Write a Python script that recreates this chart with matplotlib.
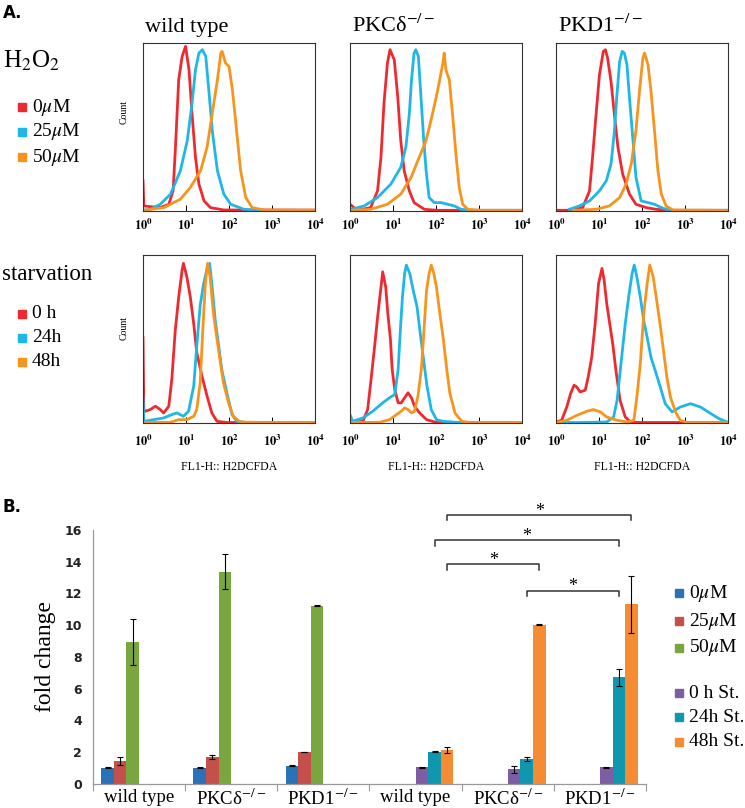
import numpy as np
import matplotlib as mpl
mpl.use('Agg')
import matplotlib.pyplot as plt
from matplotlib.patches import Rectangle

plt.rcParams['font.family'] = ['Liberation Serif', 'DejaVu Serif']
plt.rcParams['mathtext.fontset'] = 'stix'

W, H = 745, 808

# ---- flow cytometry histograms: (log10 FL1-H, normalised count) ----
# H2O2 row
wt_h2o2_0 = ([0.0, 0.02, 0.4, 0.6, 0.70, 0.755, 0.83, 0.91, 0.99, 1.07, 1.14, 1.22, 1.30, 1.42, 1.57, 1.88, 4.0],
             [0.18, 0.03, 0.02, 0.04, 0.12, 0.38, 0.78, 0.92, 0.98, 0.84, 0.58, 0.32, 0.16, 0.06, 0.02, 0.006, 0.005])
wt_h2o2_25 = ([0.0, 0.17, 0.40, 0.64, 0.87, 1.03, 1.14, 1.22, 1.30, 1.38, 1.46, 1.53, 1.61, 1.73, 1.88, 2.04, 2.35, 2.66, 4.0],
              [0.005, 0.01, 0.04, 0.10, 0.24, 0.42, 0.64, 0.84, 0.94, 0.96, 0.92, 0.72, 0.48, 0.24, 0.10, 0.04, 0.01, 0.004, 0.004])
wt_h2o2_50 = ([0.02, 0.48, 0.87, 1.10, 1.34, 1.49, 1.61, 1.73, 1.81, 1.84, 1.92, 2.0, 2.08, 2.16, 2.27, 2.39, 2.54, 2.82, 4.0],
              [0.004, 0.02, 0.07, 0.14, 0.24, 0.38, 0.58, 0.78, 0.94, 0.95, 0.88, 0.86, 0.72, 0.52, 0.24, 0.08, 0.02, 0.006, 0.005])

pkc_h2o2_0 = ([0.0, 0.17, 0.48, 0.64, 0.72, 0.79, 0.87, 0.93, 1.03, 1.11, 1.18, 1.26, 1.38, 1.49, 1.73, 2.04, 4.0],
              [0.04, 0.004, 0.02, 0.12, 0.32, 0.64, 0.88, 0.96, 0.90, 0.68, 0.42, 0.24, 0.12, 0.05, 0.01, 0.004, 0.004])
pkc_h2o2_25 = ([0.02, 0.33, 0.64, 0.95, 1.18, 1.30, 1.38, 1.43, 1.49, 1.53, 1.59, 1.65, 1.71, 1.77, 1.84, 1.96, 2.12, 2.27, 2.43, 2.58, 2.82, 4.0],
               [0.01, 0.03, 0.08, 0.16, 0.26, 0.38, 0.58, 0.78, 0.94, 0.96, 0.92, 0.68, 0.44, 0.24, 0.08, 0.05, 0.05, 0.04, 0.03, 0.01, 0.004, 0.004])
pkc_h2o2_50 = ([0.02, 0.48, 0.87, 1.18, 1.42, 1.61, 1.77, 1.92, 2.04, 2.16, 2.19, 2.23, 2.31, 2.39, 2.47, 2.54, 2.62, 2.74, 3.05, 4.0],
               [0.004, 0.01, 0.04, 0.10, 0.20, 0.32, 0.42, 0.58, 0.72, 0.88, 0.94, 0.84, 0.78, 0.56, 0.32, 0.14, 0.04, 0.01, 0.004, 0.004])

pkd_h2o2_0 = ([0.0, 0.31, 0.62, 0.78, 0.85, 0.93, 1.01, 1.10, 1.15, 1.20, 1.28, 1.36, 1.44, 1.55, 1.71, 1.86, 2.10, 2.33, 2.64, 4.0],
              [0.004, 0.004, 0.02, 0.12, 0.32, 0.57, 0.81, 0.95, 0.96, 0.91, 0.77, 0.57, 0.38, 0.22, 0.10, 0.04, 0.02, 0.01, 0.004, 0.004])
pkd_h2o2_25 = ([0.31, 0.54, 0.78, 1.01, 1.17, 1.28, 1.36, 1.41, 1.48, 1.54, 1.59, 1.65, 1.71, 1.79, 1.86, 1.98, 2.14, 2.29, 2.45, 2.64, 4.0],
               [0.01, 0.03, 0.06, 0.12, 0.18, 0.28, 0.48, 0.67, 0.89, 0.95, 0.94, 0.87, 0.67, 0.42, 0.20, 0.06, 0.05, 0.04, 0.02, 0.004, 0.004])
pkd_h2o2_50 = ([0.39, 0.93, 1.24, 1.48, 1.63, 1.75, 1.86, 1.94, 2.02, 2.06, 2.14, 2.21, 2.29, 2.37, 2.45, 2.56, 2.72, 4.0],
               [0.004, 0.01, 0.03, 0.08, 0.16, 0.28, 0.48, 0.71, 0.91, 0.94, 0.87, 0.71, 0.48, 0.24, 0.10, 0.03, 0.006, 0.004])

# starvation row
wt_st_0 = ([0.0, 0.02, 0.05, 0.17, 0.29, 0.40, 0.48, 0.60, 0.67, 0.75, 0.83, 0.91, 0.94, 1.02, 1.10, 1.18, 1.25, 1.37, 1.49, 1.60, 1.72, 1.95, 4.0],
           [0.51, 0.07, 0.07, 0.08, 0.10, 0.08, 0.06, 0.10, 0.26, 0.55, 0.75, 0.91, 0.95, 0.87, 0.75, 0.59, 0.42, 0.28, 0.16, 0.06, 0.01, 0.003, 0.003])
wt_st_24 = ([0.0, 0.02, 0.25, 0.48, 0.67, 0.79, 0.94, 1.06, 1.18, 1.25, 1.33, 1.41, 1.50, 1.55, 1.60, 1.68, 1.76, 1.83, 1.95, 2.07, 2.18, 2.41, 4.0],
            [0.15, 0.01, 0.02, 0.03, 0.05, 0.06, 0.04, 0.07, 0.22, 0.46, 0.70, 0.83, 0.93, 0.95, 0.83, 0.61, 0.46, 0.32, 0.18, 0.05, 0.01, 0.003, 0.003])
wt_st_48 = ([0.02, 0.63, 0.83, 1.02, 1.18, 1.25, 1.33, 1.39, 1.45, 1.50, 1.56, 1.64, 1.72, 1.80, 1.87, 1.99, 2.10, 2.26, 2.80, 4.0],
            [0.003, 0.004, 0.02, 0.02, 0.04, 0.08, 0.24, 0.55, 0.83, 0.95, 0.87, 0.65, 0.50, 0.36, 0.24, 0.12, 0.04, 0.006, 0.003, 0.003])

pkc_st_0 = ([0.0, 0.30, 0.41, 0.49, 0.57, 0.65, 0.73, 0.76, 0.83, 0.88, 0.94, 0.98, 1.04, 1.12, 1.19, 1.27, 1.35, 1.43, 1.50, 1.62, 1.78, 2.01, 4.0],
            [0.003, 0.01, 0.08, 0.26, 0.45, 0.65, 0.83, 0.90, 0.81, 0.65, 0.50, 0.32, 0.20, 0.12, 0.12, 0.15, 0.18, 0.15, 0.10, 0.06, 0.02, 0.003, 0.003])
pkc_st_24 = ([0.0, 0.06, 0.30, 0.53, 0.76, 0.92, 1.04, 1.12, 1.17, 1.22, 1.27, 1.31, 1.39, 1.47, 1.56, 1.64, 1.72, 1.79, 1.89, 2.01, 2.17, 2.48, 2.79, 4.0],
             [0.05, 0.01, 0.03, 0.07, 0.12, 0.15, 0.17, 0.32, 0.55, 0.75, 0.89, 0.94, 0.89, 0.79, 0.69, 0.52, 0.36, 0.22, 0.08, 0.02, 0.01, 0.004, 0.003, 0.003])
pkc_st_48 = ([0.0, 0.69, 0.92, 1.08, 1.19, 1.27, 1.35, 1.43, 1.50, 1.58, 1.66, 1.72, 1.78, 1.84, 1.89, 1.95, 2.01, 2.09, 2.17, 2.25, 2.32, 2.44, 2.60, 2.79, 4.0],
             [0.003, 0.004, 0.02, 0.05, 0.07, 0.09, 0.08, 0.06, 0.07, 0.16, 0.32, 0.55, 0.79, 0.89, 0.94, 0.89, 0.81, 0.65, 0.50, 0.32, 0.18, 0.06, 0.01, 0.003, 0.003])

pkd_st_0 = ([0.0, 0.13, 0.25, 0.34, 0.42, 0.48, 0.56, 0.68, 0.75, 0.83, 0.91, 0.99, 1.07, 1.12, 1.18, 1.25, 1.32, 1.40, 1.49, 1.61, 1.73, 1.96, 4.0],
            [0.006, 0.016, 0.095, 0.175, 0.225, 0.215, 0.185, 0.195, 0.275, 0.39, 0.59, 0.83, 0.92, 0.85, 0.71, 0.59, 0.47, 0.30, 0.135, 0.036, 0.006, 0.003, 0.003])
pkd_st_24 = ([0.0, 0.56, 1.18, 1.34, 1.42, 1.51, 1.61, 1.69, 1.77, 1.82, 1.88, 1.96, 2.04, 2.12, 2.21, 2.31, 2.43, 2.54, 2.70, 2.89, 3.13, 3.36, 3.60, 3.79, 3.98],
             [0.003, 0.003, 0.006, 0.036, 0.135, 0.35, 0.59, 0.75, 0.89, 0.94, 0.87, 0.75, 0.61, 0.51, 0.39, 0.31, 0.21, 0.115, 0.066, 0.095, 0.115, 0.095, 0.056, 0.026, 0.006])
pkd_st_48 = ([0.0, 0.25, 0.48, 0.72, 0.87, 1.03, 1.18, 1.42, 1.65, 1.81, 1.88, 1.96, 2.04, 2.12, 2.18, 2.26, 2.33, 2.43, 2.51, 2.58, 2.66, 2.78, 2.89, 3.05, 4.0],
             [0.003, 0.016, 0.045, 0.07, 0.08, 0.066, 0.036, 0.016, 0.006, 0.016, 0.155, 0.35, 0.65, 0.83, 0.94, 0.87, 0.75, 0.57, 0.41, 0.27, 0.155, 0.066, 0.016, 0.003, 0.003])

hist_rows = [[(wt_h2o2_0, wt_h2o2_25, wt_h2o2_50),
              (pkc_h2o2_0, pkc_h2o2_25, pkc_h2o2_50),
              (pkd_h2o2_0, pkd_h2o2_25, pkd_h2o2_50)],
             [(wt_st_0, wt_st_24, wt_st_48),
              (pkc_st_0, pkc_st_24, pkc_st_48),
              (pkd_st_0, pkd_st_24, pkd_st_48)]]
hist_colors = ['#ee2a30', '#1fb7e6', '#f7941e']
col_titles = ['wild type', 'PKCδ$^{-/-}$', 'PKD1$^{-/-}$']
h2o2_labels = ['0$\\mu$M', '25$\\mu$M', '50$\\mu$M']
starv_labels = ['0 h', '24h', '48h']

# ---- bar chart ----
groups = ['wild type', 'PKCδ$^{-/-}$', 'PKD1$^{-/-}$', 'wild type', 'PKCδ$^{-/-}$', 'PKD1$^{-/-}$']
nan = np.nan
bar_labels = ['0$\\mu$M', '25$\\mu$M', '50$\\mu$M', '0 h St.', '24h St.', '48h St.']
bar_colors = ['#2a72b5', '#c5504b', '#79a63e', '#7d5ea4', '#0f97ae', '#f58b33']
val_0uM = [1.0, 1.0, 1.13, nan, nan, nan]
val_25uM = [1.42, 1.68, 2.0, nan, nan, nan]
val_50uM = [8.95, 13.38, 11.22, nan, nan, nan]
val_0h = [nan, nan, nan, 1.02, 0.9, 1.02]
val_24h = [nan, nan, nan, 2.02, 1.53, 6.7]
val_48h = [nan, nan, nan, 2.13, 10.02, 11.32]
err_0uM = [0.03, 0.03, 0.03, nan, nan, nan]
err_25uM = [0.27, 0.15, 0.02, nan, nan, nan]
err_50uM = [1.45, 1.1, 0.02, nan, nan, nan]
err_0h = [nan, nan, nan, 0.03, 0.2, 0.02]
err_24h = [nan, nan, nan, 0.02, 0.12, 0.55]
err_48h = [nan, nan, nan, 0.2, 0.02, 1.8]
bar_vals = [val_0uM, val_25uM, val_50uM, val_0h, val_24h, val_48h]
bar_errs = [err_0uM, err_25uM, err_50uM, err_0h, err_24h, err_48h]

# significance brackets: group from, group to, series index, height
sig_from = [3, 3, 3, 4]
sig_to = [5, 5, 4, 5]
sig_series = [5, 4, 5, 4]
sig_height = [16.95, 15.35, 13.85, 12.17]

fig = plt.figure(figsize=(W / 100, H / 100), dpi=100)


def fx(px):
    return px / W


def fy(py):
    return 1 - py / H


# panel A
hist_left = [143, 350, 556]
hist_top = [43, 255]
hist_w, hist_h = 172, 168
for r in range(2):
    for c in range(3):
        ax = fig.add_axes([fx(hist_left[c]), fy(hist_top[r] + hist_h), hist_w / W, hist_h / H])
        for (lx, cnt), col in zip(hist_rows[r][c], hist_colors):
            ax.plot(10 ** np.array(lx), cnt, color=col, lw=2.0, solid_joinstyle='round')
        ax.set_xscale('log')
        ax.set_xlim(1, 1e4)
        ax.set_ylim(0, 1.0)
        ax.set_yticks([])
        ax.set_xticks([1, 10, 100, 1000, 10000])
        ax.set_xticklabels([r'$\mathbf{10^{%d}}$' % i for i in range(5)], fontsize=9)
        ax.tick_params(axis='x', which='major', direction='in', length=4, width=0.7, pad=8 if r else 5)
        ax.tick_params(axis='x', which='minor', direction='in', length=2.5, width=0.6)
        for s in ax.spines.values():
            s.set_color('#333333')
            s.set_linewidth(0.8)
        if r == 1:
            fig.text(fx(hist_left[c] + hist_w / 2), fy(467), 'FL1-H:: H2DCFDA',
                     ha='center', va='center', fontsize=8.5)
    fig.text(fx(124), fy([112, 328][r]), 'Count', rotation=90, ha='center', va='center', fontsize=7)

for c in range(3):
    fig.text(fx(hist_left[c] + 2), fy(32), col_titles[c], fontsize=16, va='baseline', ha='left')

fig.text(fx(3), fy(13), 'A.', fontsize=12, fontweight='bold', family='DejaVu Sans', va='center')
fig.text(fx(3), fy(61), 'H$_2$O$_2$', fontsize=18, va='center')
fig.text(fx(2), fy(275), 'starvation', fontsize=16.5, va='center')
for labels, ys in [(h2o2_labels, [107, 132, 157]), (starv_labels, [314, 338, 362])]:
    for lab, y, col in zip(labels, ys, hist_colors):
        fig.add_artist(Rectangle((fx(18), fy(y + 4)), 8 / W, 8 / H, color=col, transform=fig.transFigure))
        fig.text(fx(32), fy(y), lab, fontsize=14, va='center')

# panel B
fig.text(fx(3), fy(507), 'B.', fontsize=12, fontweight='bold', family='DejaVu Sans', va='center')
axb = fig.add_axes([fx(93), fy(783.6), 553 / W, 253.6 / H])
x = np.arange(len(groups))
bw = 0.137
for k in range(6):
    pos = x + (k - 2.5) * bw
    axb.bar(pos, bar_vals[k], bw, color=bar_colors[k])
    axb.errorbar(pos, bar_vals[k], yerr=bar_errs[k], fmt='none', ecolor='black',
                 elinewidth=0.8, capsize=2.5, capthick=0.8)
axb.set_xlim(-0.5, 5.5)
axb.set_ylim(0, 16)
axb.set_yticks(range(0, 17, 2))
axb.set_yticklabels([str(v) for v in range(0, 17, 2)], family='DejaVu Sans', fontweight='bold',
                    fontsize=9, color='#222222')
axb.set_xticks(np.arange(-0.5, 6, 1))
axb.set_xticklabels([])
axb.set_xticks(x, minor=True)
axb.set_xticklabels(groups, minor=True, fontsize=13.5)
axb.tick_params(axis='x', which='major', length=5, color='#999999', direction='out')
axb.tick_params(axis='x', which='minor', length=0, pad=4)
axb.tick_params(axis='y', length=0, pad=8)
for side in ['top', 'right']:
    axb.spines[side].set_visible(False)
for side in ['left', 'bottom']:
    axb.spines[side].set_color('#999999')
    axb.spines[side].set_linewidth(0.9)
axb.set_ylabel('fold change', fontsize=17, labelpad=6)

for g1, g2, s, yh in zip(sig_from, sig_to, sig_series, sig_height):
    x1 = g1 + (s - 2.5) * bw
    x2 = g2 + (s - 2.5) * bw
    axb.plot([x1, x1, x2, x2], [yh - 0.35, yh, yh, yh - 0.35], color='#333333', lw=1.1, clip_on=False)
    axb.text((x1 + x2) / 2, yh - 0.05, '*', ha='center', va='baseline', fontsize=13, clip_on=False)

for lab, y, col in zip(bar_labels, [593, 621, 648, 693, 717, 742], bar_colors):
    fig.add_artist(Rectangle((fx(675), fy(y + 4)), 8 / W, 8 / H, color=col, transform=fig.transFigure))
    fig.text(fx(689), fy(y), lab, fontsize=14, va='center')

fig.savefig('out.png', dpi=100)
